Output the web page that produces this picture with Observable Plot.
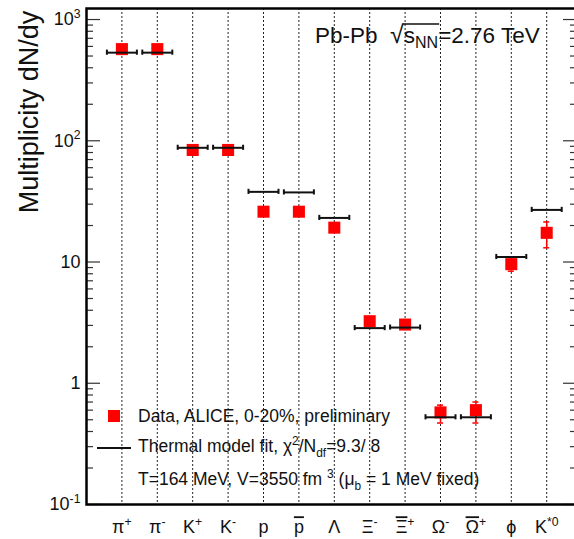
<!DOCTYPE html>
<html>
<head>
<meta charset="utf-8">
<script src="https://cdn.jsdelivr.net/npm/d3@7"></script>
<script src="https://cdn.jsdelivr.net/npm/@observablehq/plot@0.6"></script>
<style>
  html, body { margin: 0; padding: 0; background: #fff; overflow: hidden; }
  #chart { width: 574px; height: 539px; overflow: hidden; }
  #chart svg { max-width: none !important; display: block; }
</style>
</head>
<body>
<div id="chart"></div>
<script>
// ---- data ----
const particleLabels = ["π^{+}", "π^{-}", "K^{+}", "K^{-}", "p", "~{p}", "Λ", "Ξ^{-}", "~{Ξ}^{+}", "Ω^{-}", "~{Ω}^{+}", "ϕ", "K^{*0}"];
const dataValues = [570, 570, 84, 84, 26, 26, 19.2, 3.25, 3.05, 0.575, 0.60, 9.6, 17.4];
const dataErrLow = [570, 570, 84, 84, 26, 26, 19.2, 3.25, 3.05, 0.47, 0.47, 8.4, 13.1];
const dataErrHigh = [570, 570, 84, 84, 26, 26, 19.2, 3.25, 3.05, 0.66, 0.70, 10.9, 21.4];
const modelValues = [533, 533, 87.5, 87.5, 37.9, 37.5, 23.1, 2.85, 2.88, 0.524, 0.524, 11.0, 26.9];
const yMajorTicks = [0.1, 1, 10, 100, 1000];
const yTickLabels = ["10^{-1}", "1", "10", "10^{2}", "10^{3}"];
const titleText = "Pb-Pb";
const legendData = "Data, ALICE, 0-20%, preliminary";
const legendModel = "Thermal model fit, χ^{2}/N_{df}=9.3/ 8";
const legendParams = "T=164 MeV, V=3550 fm ^{3} (μ_{b} = 1 MeV fixed)";
const yTitle = "Multiplicity dN/dy";

// ---- derived tables ----
const rows = particleLabels.map((label, i) => ({
  i: i + 1, label, value: dataValues[i], lo: dataErrLow[i], hi: dataErrHigh[i], model: modelValues[i]
}));
const errRows = rows.filter(d => d.hi / d.lo > 1.12);
const minorTicks = [];
for (const dec of [0.1, 1, 10, 100]) for (let k = 2; k <= 9; k++) minorTicks.push(dec * k);

const W = 590, H = 539, mL = 86, mR = 13, mT = 8, mB = 35;
const xMax = 13.87;
const pxPerUnit = (W - mL - mR) / xMax;
const majLen = 14 / pxPerUnit, minLen = 7 / pxPerUnit;
const halfModel = 15 / pxPerUnit, capHalf = 3 / pxPerUnit;

const font = "'Liberation Sans', Arial, Helvetica, sans-serif";

const plot = Plot.plot({
  width: W, height: H,
  marginLeft: mL, marginRight: mR, marginTop: mT, marginBottom: mB,
  style: { fontFamily: font, background: "white", color: "#111", overflow: "visible" },
  x: { domain: [0, xMax], axis: null },
  y: { type: "log", domain: [0.1, 1233], axis: null },
  marks: [
    Plot.ruleX(rows, { x: "i", stroke: "#222", strokeWidth: 1, strokeDasharray: "2,2" }),
    // y ticks (inward, both sides)
    Plot.ruleY(yMajorTicks, { y: d => d, x1: 0, x2: majLen, stroke: "#333", strokeWidth: 1.2 }),
    Plot.ruleY(minorTicks, { y: d => d, x1: 0, x2: minLen, stroke: "#333", strokeWidth: 1.2 }),
    Plot.ruleY(yMajorTicks, { y: d => d, x1: xMax - majLen, x2: xMax, stroke: "#333", strokeWidth: 1.2 }),
    Plot.ruleY(minorTicks, { y: d => d, x1: xMax - minLen, x2: xMax, stroke: "#333", strokeWidth: 1.2 }),
    Plot.axisY({ ticks: yMajorTicks, tickFormat: d => yTickLabels[yMajorTicks.indexOf(d)], tickSize: 0, tickPadding: 6, fontSize: 18, label: null }),
    Plot.axisX({ ticks: rows.map(d => d.i), tickFormat: d => particleLabels[d - 1], tickSize: 0, tickPadding: 16, fontSize: 18, label: null }),
    // data error bars
    Plot.ruleX(errRows, { x: "i", y1: "lo", y2: "hi", stroke: "red", strokeWidth: 1.5 }),
    Plot.ruleY(errRows, { y: "lo", x1: d => d.i - capHalf, x2: d => d.i + capHalf, stroke: "red", strokeWidth: 1.5 }),
    Plot.ruleY(errRows, { y: "hi", x1: d => d.i - capHalf, x2: d => d.i + capHalf, stroke: "red", strokeWidth: 1.5 }),
    // data points
    Plot.dot(rows, { x: "i", y: "value", symbol: "square", r: 6.8, fill: "red", stroke: "none" }),
    // thermal model
    Plot.ruleY(rows, { y: "model", x1: d => d.i - halfModel, x2: d => d.i + halfModel, stroke: "#111", strokeWidth: 2 }),
    Plot.ruleX(rows, { x: d => d.i - halfModel, y1: d => d.model / 1.05, y2: d => d.model * 1.05, stroke: "#111", strokeWidth: 2 }),
    Plot.ruleX(rows, { x: d => d.i + halfModel, y1: d => d.model / 1.05, y2: d => d.model * 1.05, stroke: "#111", strokeWidth: 2 }),
    Plot.frame({ stroke: "#000", strokeWidth: 2.5 })
  ]
});

document.getElementById("chart").appendChild(plot);

// ---- rich text helper: ^{sup}, _{sub}, ~{overline} ----
function richText(sel, markup, F) {
  sel.text(null);
  const toks = markup.match(/(\^\{[^}]*\}|_\{[^}]*\}|~\{[^}]*\}|[^\^_~]+)/g) || [];
  let shift = 0;
  for (const tok of toks) {
    let kind = "n", s = tok;
    if (tok.startsWith("^{")) { kind = "sup"; s = tok.slice(2, -1); }
    else if (tok.startsWith("_{")) { kind = "sub"; s = tok.slice(2, -1); }
    else if (tok.startsWith("~{")) { kind = "ol"; s = tok.slice(2, -1); }
    const target = kind === "sup" ? -0.42 * F : kind === "sub" ? 0.28 * F : 0;
    const t = sel.append("tspan").attr("dy", target - shift).text(s);
    shift = target;
    if (kind === "sup" || kind === "sub") t.attr("font-size", 0.68 * F);
    if (kind === "ol") t.style("text-decoration", "overline");
  }
}

const svg = d3.select(plot);
svg.selectAll('g[aria-label="x-axis tick label"] text').each(function () {
  richText(d3.select(this), this.textContent, 18);
});
svg.selectAll('g[aria-label="y-axis tick label"] text').each(function () {
  richText(d3.select(this), this.textContent, 18);
});

// y-axis title
svg.append("text")
  .attr("transform", "translate(38,112) rotate(-90)")
  .attr("text-anchor", "middle")
  .attr("font-size", 27)
  .attr("fill", "#111")
  .text(yTitle);

// title annotation
const tt = svg.append("text").attr("x", 315).attr("y", 43).attr("font-size", 22.5)
  .attr("fill", "#111").attr("text-anchor", "start").style("white-space", "pre");
tt.append("tspan").text(titleText + "  ");
tt.append("tspan").attr("font-size", 25).text("√");
tt.append("tspan").text("s");
tt.append("tspan").attr("dy", 5).attr("font-size", 16).text("NN");
tt.append("tspan").attr("dy", -5).text("=2.76 TeV");
{
  const n = tt.node();
  const iS = (titleText + "  √").length;
  const xa = n.getStartPositionOfChar(iS).x;
  const xb = n.getEndPositionOfChar(iS + 2).x;
  svg.append("line").attr("x1", xa - 1).attr("x2", xb + 1).attr("y1", 24).attr("y2", 24)
    .attr("stroke", "#111").attr("stroke-width", 1.3);
}

// legend
const lg = svg.append("g").attr("font-size", 17.5).attr("fill", "#111").attr("text-anchor", "start");
lg.append("rect").attr("x", 108).attr("y", 410).attr("width", 12).attr("height", 12).attr("fill", "red");
lg.append("text").attr("x", 138).attr("y", 422).text(legendData);
lg.append("line").attr("x1", 97).attr("x2", 131).attr("y1", 448).attr("y2", 448).attr("stroke", "#111").attr("stroke-width", 2);
richText(lg.append("text").attr("x", 138).attr("y", 452), legendModel, 17.5);
richText(lg.append("text").attr("x", 138).attr("y", 485), legendParams, 17.5);
</script>
</body>
</html>
